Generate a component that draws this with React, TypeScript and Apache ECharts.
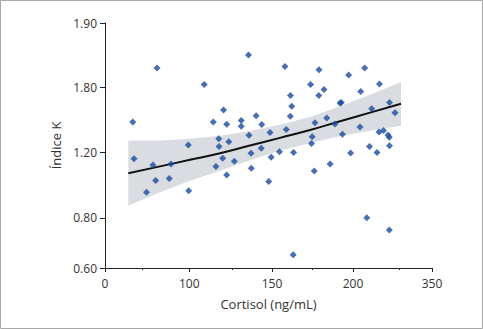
import React, { useEffect, useRef } from "react";
import * as echarts from "echarts";

// Axis tick labels (the reference axes are not linear: labels sit at these relative positions)
const xTickValues = [0, 100, 150, 200, 350];
const xTickStops = [0, 0.2578, 0.5107, 0.7584, 1];
const xMinorStops = [0.113, 0.388, 0.633, 0.899];
const yTickValues = [0.6, 0.8, 1.2, 1.8, 1.9];
const yTickStops = [0, 0.2048, 0.4723, 0.7382, 1];

// Scatter data: cortisol (ng/mL) and índice K
const cortisol = [
  32.9, 34.4, 61.7, 56.9, 60.1, 49.2, 78.3, 76.2, 98.8, 99.3,
  109.0, 114.5, 120.7, 122.6, 117.8, 118.0, 123.9, 120.2, 116.1, 127.2,
  122.6, 131.4, 131.4, 135.8, 136.1, 140.4, 137.3, 137.5, 143.8, 143.5,
  148.8, 149.5, 148.0, 154.6, 158.0, 158.8, 161.4, 162.2, 161.3, 163.3,
  163.1, 173.8, 174.8, 174.4, 176.1, 179.0, 178.9, 176.5, 182.1, 183.8,
  188.9, 185.9, 192.0, 192.8, 193.5, 197.3, 198.5, 214.6, 213.3, 222.2,
  226.2, 231.3, 235.5, 245.6, 250.3, 249.4, 257.9, 266.5, 268.9, 269.3,
  269.3, 268.9, 279.7,
];
const indiceK = [
  1.478, 1.161, 1.83, 1.123, 1.028, 0.956, 1.128, 1.04, 1.267, 0.966,
  1.804, 1.478, 1.589, 1.458, 1.325, 1.253, 1.296, 1.163, 1.114, 1.146,
  1.061, 1.492, 1.44, 1.85, 1.357, 1.536, 1.194, 1.103, 1.455, 1.238,
  1.382, 1.17, 1.021, 1.206, 1.832, 1.409, 1.722, 1.624, 1.532, 1.198,
  0.653, 1.804, 1.343, 1.281, 1.086, 1.827, 1.722, 1.472, 1.779, 1.515,
  1.46, 1.128, 1.653, 1.659, 1.366, 1.819, 1.195, 1.761, 1.432, 1.83,
  0.8, 1.253, 1.602, 1.198, 1.805, 1.387, 1.4, 1.359, 1.338, 1.659,
  1.26, 0.751, 1.564,
];

// Fitted curve and confidence band
const fitX = [27.6, 65.2, 100.4, 118.6, 136.7, 154.9, 173.5, 192.0, 232.3, 291.1];
const fitY = [1.072, 1.114, 1.154, 1.194, 1.262, 1.333, 1.405, 1.486, 1.565, 1.647];
const bandUpper = [1.306, 1.309, 1.324, 1.352, 1.395, 1.453, 1.524, 1.624, 1.73, 1.808];
const bandLower = [0.874, 0.956, 1.026, 1.087, 1.152, 1.214, 1.285, 1.348, 1.399, 1.444];

function piecewise(v: number, vals: number[], stops: number[]) {
  let i = 0;
  while (i < vals.length - 2 && v > vals[i + 1]) i++;
  return stops[i] + ((v - vals[i]) / (vals[i + 1] - vals[i])) * (stops[i + 1] - stops[i]);
}
const toX = (v: number) => piecewise(v, xTickValues, xTickStops);
const toY = (v: number) => piecewise(v, yTickValues, yTickStops);

function labelFor(v: number, vals: number[], stops: number[], dec: number) {
  let best = 0;
  for (let i = 0; i < stops.length; i++) {
    if (Math.abs(stops[i] - v) < Math.abs(stops[best] - v)) best = i;
  }
  return vals[best].toFixed(dec);
}

const FONT = "'Open Sans', 'Noto Sans', sans-serif";
const TEXT = "#333333";

export default function App() {
  const ref = useRef<HTMLDivElement>(null);
  useEffect(() => {
    document.body.style.margin = "0";
    const chart = echarts.init(ref.current!, null, { renderer: "svg" });
    const scatterData = cortisol.map((c, i) => [toX(c), toY(indiceK[i])]);
    const lineData = fitX.map((x, i) => [toX(x), toY(fitY[i])]);
    chart.setOption({
      animation: false,
      backgroundColor: "#ffffff",
      grid: { left: 105, right: 51, top: 23, bottom: 61, outerBoundsMode: "none" },
      graphic: [
        {
          type: "rect",
          shape: { x: 0.5, y: 0.5, width: 482, height: 328 },
          style: { fill: "none", stroke: "#a8a8a8", lineWidth: 1 },
          silent: true,
        },
      ],
      xAxis: [
        {
          type: "value",
          min: 0,
          max: 1,
          name: "Cortisol (ng/mL)",
          nameLocation: "middle",
          nameGap: 29,
          nameTextStyle: { fontFamily: FONT, fontSize: 13, color: TEXT },
          splitLine: { show: false },
          axisLine: { show: true, lineStyle: { color: "#222", width: 1 } },
          axisTick: {
            show: true,
            length: 4,
            customValues: xTickStops,
            lineStyle: { color: "#222" },
          },
          axisLabel: {
            customValues: xTickStops,
            margin: 9,
            fontFamily: FONT,
            fontSize: 12,
            color: TEXT,
            formatter: (v: number) => labelFor(v, xTickValues, xTickStops, 0),
          },
        },
        {
          type: "value",
          position: "bottom",
          min: 0,
          max: 1,
          axisLine: { show: false },
          splitLine: { show: false },
          axisLabel: { show: false },
          axisTick: {
            show: true,
            length: 2,
            customValues: xMinorStops,
            lineStyle: { color: "#222" },
          },
        },
      ],
      yAxis: {
        type: "value",
        min: 0,
        max: 1,
        name: "Índice K",
        nameLocation: "middle",
        nameGap: 40,
        nameTextStyle: { fontFamily: FONT, fontSize: 13, color: TEXT },
        splitLine: { show: false },
        axisLine: { show: true, lineStyle: { color: "#222", width: 1 } },
        axisTick: {
          show: true,
          length: 5,
          customValues: yTickStops,
          lineStyle: { color: "#222" },
        },
        axisLabel: {
          customValues: yTickStops,
          margin: 8,
          fontFamily: FONT,
          fontSize: 12,
          color: TEXT,
          formatter: (v: number) => labelFor(v, yTickValues, yTickStops, 2),
        },
      },
      series: [
        {
          type: "custom",
          z: 1,
          silent: true,
          data: [0],
          renderItem: (_params: any, api: any) => {
            const pts: number[][] = [];
            for (let i = 0; i < fitX.length; i++) pts.push(api.coord([toX(fitX[i]), toY(bandUpper[i])]));
            for (let i = fitX.length - 1; i >= 0; i--) pts.push(api.coord([toX(fitX[i]), toY(bandLower[i])]));
            return {
              type: "polygon",
              shape: { points: pts },
              style: { fill: "#d9dde2", stroke: "none" },
            };
          },
        },
        {
          type: "line",
          z: 2,
          data: lineData,
          smooth: true,
          showSymbol: false,
          lineStyle: { color: "#111111", width: 2 },
        },
        {
          type: "scatter",
          z: 3,
          data: scatterData,
          symbol: "diamond",
          symbolSize: 7,
          itemStyle: { color: "#1a4b9b" },
        },
      ],
    });
    return () => chart.dispose();
  }, []);
  return <div ref={ref} style={{ width: 483, height: 329 }} />;
}
